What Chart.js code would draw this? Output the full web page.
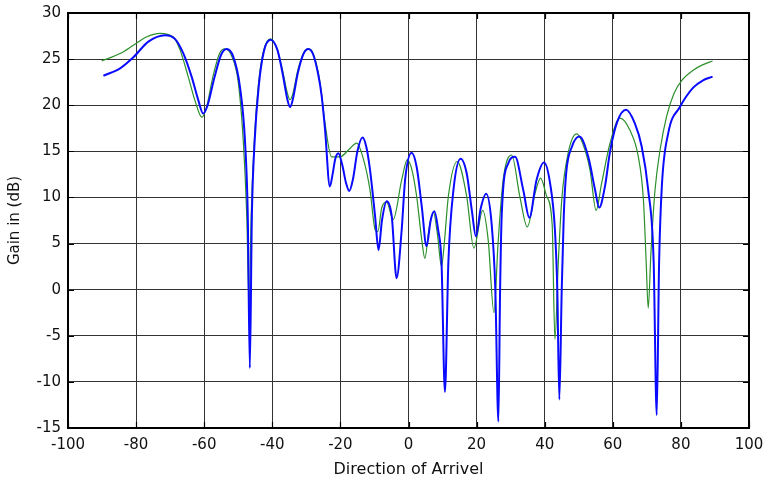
<!DOCTYPE html>
<html>
<head>
<meta charset="utf-8">
<script src="https://cdn.jsdelivr.net/npm/chart.js@4"></script>
<style>
  html, body { margin: 0; padding: 0; background: #fff; }
  #wrap { width: 767px; height: 479px; }
</style>
</head>
<body>
<div id="wrap"><canvas id="c" width="767" height="479"></canvas></div>
<script>
const xTicks = [-100, -80, -60, -40, -20, 0, 20, 40, 60, 80, 100];
const yTicks = [-15, -10, -5, 0, 5, 10, 15, 20, 25, 30];

const blueAngles = [-89.6, -84.7, -80.8, -76.4, -71.5, -68.6, -66.1, -63.7, -61.7, -60.3, -59, -57, -55, -53.4, -51.5, -49.5, -48, -47.2, -46.6, -46.0, -45.2, -44, -42.5, -40.5, -38.5, -37, -35.5, -34.8, -34, -32.5, -30.8, -29.4, -28, -26.5, -25.5, -24.5, -23.1, -22.3, -21.5, -20.6, -19.5, -18.3, -17.4, -16.3, -15, -13.5, -12.4, -11.3, -9.8, -8.8, -7.8, -6.4, -4.9, -3.5, -2.0, -1.0, 0.9, 2.4, 3.9, 5.3, 6.5, 7.6, 8.7, 9.7, 10.7, 11.7, 13.2, 15.3, 17.1, 18.6, 19.8, 21.2, 22.8, 24.4, 25.5, 26.4, 26.9, 27.4, 29.3, 31.3, 33.7, 35.5, 37.6, 39.8, 41.6, 43.0, 43.7, 44.3, 45.0, 45.6, 46.3, 48, 50.2, 52.8, 54.8, 56.0, 57.7, 59.2, 61.3, 63.9, 66.5, 68.5, 70.4, 72.0, 72.9, 73.6, 74.4, 76.3, 79.7, 83.6, 86.5, 89.3];
const blueGain = [23.2, 24.0, 25.2, 26.9, 27.6, 27.2, 25.6, 23.1, 20.5, 19.1, 20.0, 23.0, 25.5, 26.1, 25.3, 22.0, 16, 8, -8.5, 8, 16, 22, 25.8, 27.1, 26.0, 23.5, 20.5, 19.8, 20.6, 23.5, 25.6, 26.1, 25.5, 23.3, 21.0, 17.3, 11.2, 12.5, 14.2, 14.8, 13.6, 11.5, 10.7, 12, 15, 16.5, 15.5, 13.0, 7.9, 4.3, 7.5, 9.6, 7.9, 1.25, 6.5, 11.9, 14.85, 13.3, 9.0, 4.7, 7.5, 8.5, 6.5, 2.9, -11.1, 2.9, 10.8, 14.2, 12.6, 8.6, 5.8, 8.8, 10.4, 7.2, 0, -14.3, 0, 8.3, 13.7, 14.4, 10.8, 7.8, 11.9, 13.8, 11.5, 6.5, 0, -11.9, 0, 8, 12.6, 15.5, 16.6, 14.4, 10.8, 8.9, 11.2, 15, 18.2, 19.5, 18.0, 15.5, 10.8, 3, -13.6, 3, 11.2, 17.0, 19.8, 21.9, 22.7, 23.1];

const greenAngles = [-90.1, -84.7, -80.8, -77, -73, -69.1, -67.1, -64.7, -62.7, -60.7, -59.3, -57.5, -55.5, -53.9, -52, -50, -48.5, -47.5, -46.8, -46.2, -45.3, -44, -42.5, -40.5, -38.5, -37, -35.5, -34.8, -34, -32.5, -30.8, -29.4, -28, -26, -24.5, -22.6, -20.1, -17.5, -15.2, -13.5, -11.3, -9.8, -9, -7.9, -6.4, -4.5, -2.0, -0.35, 1.0, 2.4, 3.9, 4.8, 6, 7.3, 8.5, 9.7, 10.5, 11.7, 14.3, 17.1, 19.2, 21.8, 23.4, 25.1, 26.3, 27.8, 30.3, 32.7, 34.9, 37.2, 38.8, 40.6, 42.2, 43.0, 44.0, 45.0, 47, 49.4, 51, 53.3, 55.1, 56.7, 59.2, 62.1, 65.0, 67.5, 69.0, 69.8, 70.4, 71.2, 72.4, 73.9, 75.8, 78.0, 80.5, 83.6, 86.5, 89.3];
const greenGain = [24.8, 25.6, 26.5, 27.4, 27.8, 27.4, 26.0, 23.1, 20.5, 18.7, 19.8, 23, 25.6, 26.1, 25.4, 22.5, 16, 8, -1.8, 8, 16, 22.5, 26, 27.2, 26, 23.8, 21.2, 20.6, 21.2, 23.8, 25.7, 26.1, 25.6, 22.5, 18, 14.4, 14.4, 15.2, 15.9, 14.5, 10.8, 6.5, 6.3, 8.8, 9.5, 7.6, 11.9, 14.1, 13, 10.1, 5.4, 3.4, 6.5, 8.45, 6, 2.5, 5, 10.1, 13.9, 10.1, 4.5, 8.6, 5.4, -2.5, 5, 11.9, 14.6, 10.1, 6.8, 10.5, 12.1, 10.1, 7, -5.4, 3, 9.7, 15, 16.9, 16, 13, 8.6, 11.5, 15.9, 18.6, 17.3, 14.4, 9.7, 3, -2.0, 4, 10.8, 15.2, 18.8, 21.3, 22.8, 23.8, 24.4, 24.8];

const toPts = (xs, ys) => xs.map((x, i) => ({ x: x, y: ys[i] }));

const FONT = "'DejaVu Sans', 'Liberation Sans', Arial, sans-serif";

const frame = {
  id: 'frame',
  afterDatasetsDraw(chart) {
    const { ctx, chartArea: a, scales } = chart;
    ctx.save();
    ctx.strokeStyle = '#000';
    ctx.lineWidth = 1.2;
    const L = 6;
    ctx.beginPath();
    xTicks.forEach(v => {
      const px = Math.round(scales.x.getPixelForValue(v)) + 0.5;
      ctx.moveTo(px, a.bottom); ctx.lineTo(px, a.bottom - L);
      ctx.moveTo(px, a.top); ctx.lineTo(px, a.top + L);
    });
    yTicks.forEach(v => {
      const py = Math.round(scales.y.getPixelForValue(v)) + 0.5;
      ctx.moveTo(a.left, py); ctx.lineTo(a.left + L, py);
      ctx.moveTo(a.right, py); ctx.lineTo(a.right - L, py);
    });
    ctx.stroke();
    ctx.lineWidth = 2;
    ctx.strokeRect(a.left, a.top, a.right - a.left, a.bottom - a.top);
    ctx.restore();
  }
};

new Chart(document.getElementById('c'), {
  type: 'line',
  data: {
    datasets: [
      {
        label: 'blue',
        data: toPts(blueAngles, blueGain),
        borderColor: '#0a0aff',
        borderWidth: 2,
        pointRadius: 0,
        cubicInterpolationMode: 'monotone',
        order: 0
      },
      {
        label: 'green',
        data: toPts(greenAngles, greenGain),
        borderColor: '#2b8f2b',
        borderWidth: 1.2,
        pointRadius: 0,
        cubicInterpolationMode: 'monotone',
        order: 1
      }
    ]
  },
  options: {
    responsive: false,
    animation: false,
    devicePixelRatio: 1,
    layout: { padding: { left: 0, right: 18, top: 13, bottom: 0 } },
    plugins: { legend: { display: false }, tooltip: { enabled: false } },
    scales: {
      x: {
        type: 'linear',
        min: -100, max: 100,
        afterBuildTicks: s => { s.ticks = xTicks.map(v => ({ value: v })); },
        afterFit: s => { s.height = 51; s.paddingLeft = 0; s.paddingRight = 0; },
        grid: { color: '#333', lineWidth: 1, drawTicks: false },
        border: { display: false },
        ticks: { color: '#111', font: { family: FONT, size: 15 }, padding: 8, maxRotation: 0 },
        title: { display: true, text: 'Direction of Arrivel', color: '#111', font: { family: FONT, size: 16 }, padding: { top: 2, bottom: 0 } }
      },
      y: {
        type: 'linear',
        min: -15, max: 30,
        afterBuildTicks: s => { s.ticks = yTicks.map(v => ({ value: v })); },
        afterFit: s => { s.width = 68; s.paddingTop = 0; s.paddingBottom = 0; },
        grid: { color: '#333', lineWidth: 1, drawTicks: false },
        border: { display: false },
        ticks: { color: '#111', font: { family: FONT, size: 15 }, padding: 7 },
        title: { display: true, text: 'Gain in (dB)', color: '#111', font: { family: FONT, size: 15 }, padding: { top: 6, bottom: 0 } }
      }
    }
  },
  plugins: [frame]
});
</script>
</body>
</html>
